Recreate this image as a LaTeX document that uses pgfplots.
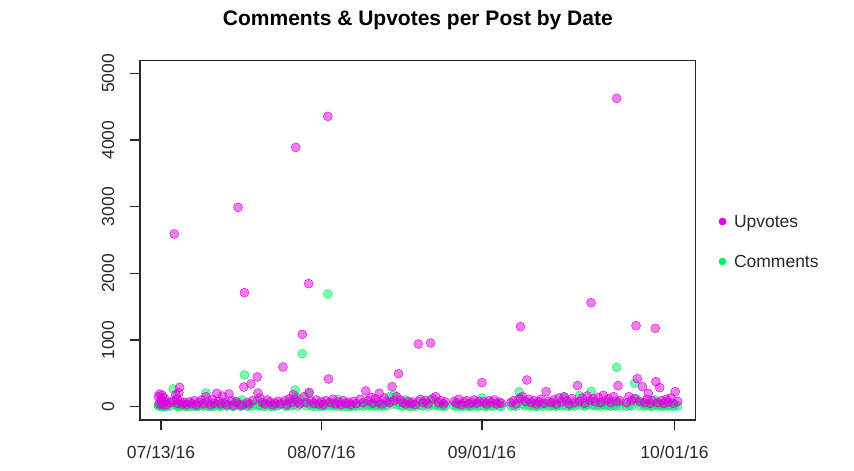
\documentclass[border=0pt]{standalone}
\usepackage{pgfplots}
\pgfplotsset{compat=1.18}
\usepackage{pgfplotstable}
\usepackage{fontspec}
\setmainfont{Liberation Sans}
\definecolor{upc}{RGB}{224,0,224}
\definecolor{cmc}{RGB}{0,240,100}
\definecolor{axc}{RGB}{40,40,40}
\pgfplotstableread{
x u c
-0.4 150 20
-0.3 40 5
-0.2 190 30
0.0 110 60
0.1 60 10
0.2 170 15
0.3 25 3
0.5 130 40
0.6 80 8
0.9 30 2
1.4 60 10
1.9 90 265
2.07 2590 70
2.3 180 30
2.5 120 15
2.6 50 5
2.8 210 35
2.9 290 20
3.0 80 8
3.3 40 20
3.7 60 6
4.0 30 4
4.4 70 12
4.8 45 3
5.2 90 20
5.5 25 2
5.9 60 10
6.3 100 25
6.6 40 5
7.0 150 205
7.3 70 10
7.7 30 3
8.0 110 15
8.3 50 8
8.7 200 30
9.0 80 12
9.3 40 4
9.6 160 50
10.0 60 20
10.3 30 6
10.6 190 40
11.0 90 15
11.3 20 2
11.7 70 80
12.0 2990 60
12.3 30 5
12.6 20 100
12.9 295 30
13.0 1710 475
13.4 60 8
13.7 40 5
14.0 340 40
14.3 90 10
15.0 445 90
15.1 205 25
15.4 130 20
15.8 60 10
16.2 40 5
16.6 100 30
17.0 70 10
17.4 30 3
17.8 50 8
18.2 80 15
18.6 40 40
19.0 595 50
19.3 90 12
19.6 30 4
20.0 120 60
20.3 60 10
20.6 180 30
20.9 110 250
21.0 3890 150
21.3 70 10
21.6 40 120
22.0 1085 795
22.3 150 60
22.6 60 10
23.0 1845 200
23.1 215 40
23.4 80 15
23.8 50 6
24.2 100 20
24.6 40 5
25.0 70 12
25.3 30 3
25.7 90 25
26.0 4355 1690
26.1 415 60
26.4 60 10
26.8 110 20
27.2 40 5
27.6 70 110
28.0 30 3
28.4 90 15
28.8 50 8
29.2 60 10
29.6 35 4
30.0 80 12
30.4 45 6
31.0 110 20
31.5 60 8
31.9 235 40
32.3 90 15
32.7 140 25
33.0 50 6
33.4 120 20
33.8 70 10
34.0 200 30
34.4 40 5
34.8 130 20
35.2 80 12
35.6 60 150
36.0 300 40
36.3 90 175
36.7 150 30
37.0 495 60
37.3 100 15
37.7 60 8
38.1 40 100
38.5 80 12
38.9 50 6
39.2 70 20
39.6 30 4
40.1 940 80
40.4 110 20
40.8 60 10
41.2 90 60
41.6 40 5
42.0 955 100
42.3 120 25
42.8 150 30
43.2 60 8
43.6 90 12
44.0 40 5
44.3 70 10
45.7 80 12
46.0 50 6
46.4 110 20
46.8 30 4
47.2 70 10
47.6 90 15
48.0 40 5
48.4 60 8
48.8 100 30
49.2 50 6
49.6 80 12
50.0 360 130
50.3 70 10
50.7 40 5
51.1 90 20
51.5 60 8
51.9 100 15
52.3 40 40
52.7 70 10
53.0 50 6
54.5 60 10
54.9 90 15
55.3 40 5
55.8 120 225
56.0 1200 130
56.3 150 40
56.7 80 12
57.0 400 60
57.3 110 20
57.7 60 8
58.1 90 12
58.5 40 5
58.9 70 10
59.2 110 30
59.6 50 6
60.0 225 40
60.4 80 12
60.8 60 8
61.2 100 15
61.6 40 5
62.0 130 25
62.4 70 10
62.8 150 140
63.2 90 12
63.6 40 6
64.0 120 20
64.4 60 8
64.9 315 40
65.2 80 165
65.6 130 20
66.0 50 6
66.4 160 30
66.8 90 60
67.0 1560 230
67.3 120 20
67.7 70 10
68.1 140 25
68.5 60 8
68.9 170 30
69.3 90 12
69.7 120 20
70.1 60 8
70.5 150 30
70.9 80 10
71.0 4625 590
71.2 315 60
71.5 90 12
72.5 60 8
72.9 150 20
73.3 90 12
73.8 120 350
74.0 1215 120
74.2 420 70
74.6 80 10
75.0 300 50
75.3 60 8
75.7 110 20
75.9 200 30
76.2 50 6
76.6 90 12
77.0 1175 100
77.1 375 40
77.4 60 8
77.7 285 30
78.0 90 12
78.3 50 6
78.7 110 20
79.0 70 10
79.4 130 15
79.8 50 6
80.1 225 30
80.5 80 10
}\posts

\begin{document}
\begin{tikzpicture}
\useasboundingbox (0,0) rectangle (854bp,471bp);
\begin{axis}[
  at={(140bp,51bp)}, anchor=south west,
  width=555.7bp, height=359.3bp, scale only axis,
  xmin=-3.27, xmax=83.3, ymin=-200, ymax=5190,
  xtick={0,25,50,80},
  xticklabels={07/13/16,08/07/16,09/01/16,10/01/16},
  ytick={0,1000,2000,3000,4000,5000},
  scaled y ticks=false,
  xtick pos=left, ytick pos=left,
  tick align=outside, major tick length=10bp,
  axis line style={axc, line width=1.1bp},
  every tick/.style={axc, line width=1.1bp},
  tick label style={font=\fontsize{17.5bp}{21bp}\selectfont, text=axc},
  /pgf/number format/assume math mode=true,
  /pgf/number format/1000 sep={},
  yticklabel style={rotate=90, anchor=south, inner ysep=15.5bp, inner xsep=0pt},
  xticklabel style={anchor=north, inner ysep=15.4bp, inner xsep=0pt},
  title={\textbf{Comments \& Upvotes per Post by Date}},
  title style={at={(axis description cs:0.5,1.081)}, anchor=base,
    font=\fontsize{21bp}{25bp}\selectfont, inner sep=0pt, text=black},
  reverse legend,
  legend cell align=left,
  legend style={draw=none, fill=none, inner sep=0pt, outer sep=0pt,
    at={(axis description cs:1.0414,0.5711)}, anchor=north west,
    row sep=23bp,
    font=\fontsize{17.5bp}{21bp}\selectfont, text=axc,
    nodes={inner sep=0pt, text height=13bp, text depth=4bp},
    /tikz/every odd column/.append style={column sep=7.7bp}},
]
\addplot[only marks, mark=*, mark size=4.5bp, color=cmc,
  mark options={draw=none, fill=cmc, fill opacity=0.5},
  legend image code/.code={\fill[cmc] (0bp,1.8bp) circle (3.6bp);}]
  table[x=x, y=c] {\posts};
\addlegendentry{Comments}
\addplot[only marks, mark=*, mark size=4.5bp, color=upc,
  mark options={draw=none, fill=upc, fill opacity=0.5},
  legend image code/.code={\fill[upc] (0bp,1.8bp) circle (3.6bp);}]
  table[x=x, y=u] {\posts};
\addlegendentry{Upvotes}
\end{axis}
\end{tikzpicture}
\end{document}
